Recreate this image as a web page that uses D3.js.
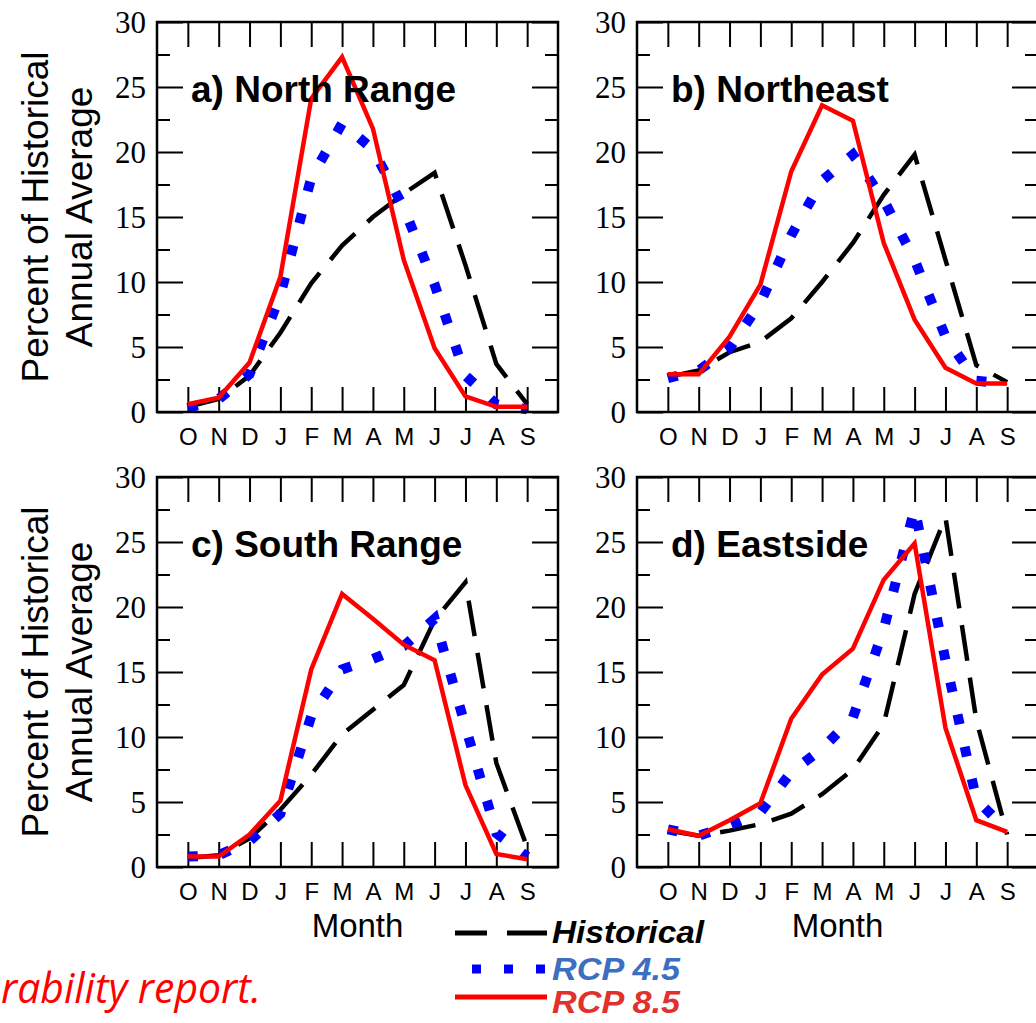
<!DOCTYPE html>
<html lang="en">
<head>
<meta charset="utf-8" />
<title>Percent of Historical Annual Average by Month</title>
<script src="https://d3js.org/d3.v7.min.js"></script>
<style>
  body { margin: 0; background: #fff; }
  svg { display: block; }
</style>
</head>
<body>
<script>
    var w = 1036;
    var h = 1023;

    // months of the water year, Oct..Sep
    var months = ["O","N","D","J","F","M","A","M","J","J","A","S"];
    var yTicks = [0, 5, 10, 15, 20, 25, 30];
    var yMinor = [2.5, 7.5, 12.5, 17.5, 22.5, 27.5];
    var titles = ["a) North Range", "b) Northeast", "c) South Range", "d) Eastside"];
    var seriesNames = ["Historical", "RCP 4.5", "RCP 8.5"];

    // values (percent of historical annual average)
    var northHist  = [0.4, 1.0, 2.8, 6.1, 9.9, 12.8, 15.0, 16.8, 18.4, 11.3, 3.7, 0.6];
    var northRcp45 = [0.3, 1.0, 2.9, 9.0, 18.0, 22.2, 20.2, 15.7, 9.8, 2.8, 0.6, 0.2];
    var northRcp85 = [0.6, 1.1, 3.8, 10.4, 24.1, 27.3, 21.8, 11.7, 4.9, 1.2, 0.4, 0.4];

    var neHist  = [2.7, 3.2, 4.6, 5.4, 7.2, 10.0, 13.0, 16.7, 19.8, 11.7, 3.6, 2.3];
    var neRcp45 = [2.6, 3.2, 4.9, 8.4, 13.6, 17.8, 19.8, 16.3, 11.7, 5.8, 2.4, 2.2];
    var neRcp85 = [2.9, 2.9, 5.8, 9.8, 18.5, 23.6, 22.4, 13.0, 7.1, 3.4, 2.2, 2.2];

    var southHist  = [0.7, 0.9, 2.2, 4.4, 7.1, 10.2, 12.1, 14.0, 19.0, 21.9, 8.0, 1.5];
    var southRcp45 = [0.8, 0.9, 2.0, 4.1, 11.6, 15.2, 16.0, 17.0, 19.1, 10.8, 2.6, 0.8];
    var southRcp85 = [0.8, 0.8, 2.5, 5.1, 15.2, 21.0, 19.1, 17.1, 15.9, 6.3, 1.0, 0.6];

    var eastHist  = [2.8, 2.4, 2.8, 3.3, 4.1, 5.6, 7.5, 11.0, 21.0, 26.9, 11.3, 2.5];
    var eastRcp45 = [2.9, 2.4, 3.2, 4.2, 7.3, 9.1, 11.5, 18.3, 27.6, 15.9, 5.2, 2.8];
    var eastRcp85 = [2.9, 2.4, 3.6, 4.9, 11.4, 14.8, 16.8, 22.1, 24.9, 10.7, 3.6, 2.7];

    var panels = [
        [northHist, northRcp45, northRcp85],
        [neHist, neRcp45, neRcp85],
        [southHist, southRcp45, southRcp85],
        [eastHist, eastRcp45, eastRcp85]
    ];

    // panel placement
    var pw = 401, ph = 390;
    var origins = [[157, 22], [637, 22], [157, 477], [637, 477]];

    // line styles: historical dashed, rcp4.5 square dots, rcp8.5 solid
    var styles = [
        {color: "#000000", width: 4.5, dash: "36,17"},
        {color: "#0000ff", width: 10, dash: "10,23"},
        {color: "#ff0000", width: 4.5, dash: null}
    ];

    var sans = "Liberation Sans, Arial, Helvetica, sans-serif";
    var serif = "Liberation Serif, Times New Roman, serif";

    var xScale = d3.scaleLinear().domain([-1, 12]).range([0, pw]);
    var yScale = d3.scaleLinear().domain([0, 30]).range([ph, 0]);

    var svg = d3.select("body")
        .append("svg")
        .attr("width", w)
        .attr("height", h);

    var line = d3.line()
        .x(function(d, i) { return xScale(i); })
        .y(function(d) { return yScale(d); });

    function styleAxis(g) {
        g.select(".domain").remove();
        g.selectAll(".tick line").attr("stroke", "#000").attr("stroke-width", 2);
    }

    panels.forEach(function(series, p) {
        var g = svg.append("g")
            .attr("transform", "translate(" + origins[p][0] + "," + origins[p][1] + ")");

        // left ticks with labels
        g.append("g")
            .call(d3.axisLeft(yScale).tickValues(yTicks).tickSize(-26).tickPadding(11))
            .call(styleAxis)
            .selectAll("text")
            .attr("font-family", serif)
            .attr("font-size", "31px")
            .attr("fill", "#000")
            .attr("dy", "0.34em");
        g.append("g")
            .call(d3.axisLeft(yScale).tickValues(yMinor).tickSize(-13).tickFormat(""))
            .call(styleAxis);

        // right ticks
        g.append("g")
            .attr("transform", "translate(" + pw + ",0)")
            .call(d3.axisRight(yScale).tickValues(yTicks).tickSize(-26).tickFormat(""))
            .call(styleAxis);
        g.append("g")
            .attr("transform", "translate(" + pw + ",0)")
            .call(d3.axisRight(yScale).tickValues(yMinor).tickSize(-13).tickFormat(""))
            .call(styleAxis);

        // bottom month ticks + labels
        g.append("g")
            .attr("transform", "translate(0," + ph + ")")
            .call(d3.axisBottom(xScale).tickValues(d3.range(12)).tickSize(-25).tickPadding(16)
                .tickFormat(function(i) { return months[i]; }))
            .call(styleAxis)
            .selectAll("text")
            .attr("font-family", sans)
            .attr("font-size", "24px")
            .attr("fill", "#000");

        // top month ticks
        g.append("g")
            .call(d3.axisTop(xScale).tickValues(d3.range(12)).tickSize(-25).tickFormat(""))
            .call(styleAxis);

        // series lines
        series.forEach(function(vals, s) {
            var path = g.append("path")
                .datum(vals)
                .attr("d", line)
                .attr("fill", "none")
                .attr("stroke", styles[s].color)
                .attr("stroke-width", styles[s].width)
                .attr("stroke-linejoin", "miter")
                .attr("stroke-miterlimit", 10)
                .attr("stroke-linecap", "butt");
            if (styles[s].dash) path.attr("stroke-dasharray", styles[s].dash);
        });

        // frame
        g.append("rect")
            .attr("width", pw)
            .attr("height", ph)
            .attr("fill", "none")
            .attr("stroke", "#000")
            .attr("stroke-width", 2.5);

        // panel title
        g.append("text")
            .attr("x", 34)
            .attr("y", 80)
            .attr("font-family", sans)
            .attr("font-weight", "bold")
            .attr("font-size", "37px")
            .attr("fill", "#000")
            .text(titles[p]);

        // y label on left column
        if (p % 2 === 0) {
            var lbl = svg.append("text")
                .attr("transform", "translate(0," + (origins[p][1] + ph / 2) + ") rotate(-90)")
                .attr("text-anchor", "middle")
                .attr("font-family", sans)
                .attr("font-size", "37px")
                .attr("fill", "#000");
            lbl.append("tspan").attr("x", 0).attr("y", 48).text("Percent of Historical");
            lbl.append("tspan").attr("x", 0).attr("y", 92).text("Annual Average");
        }

        // x label on bottom row
        if (p >= 2) {
            svg.append("text")
                .attr("x", origins[p][0] + xScale(5.5))
                .attr("y", 937)
                .attr("text-anchor", "middle")
                .attr("font-family", sans)
                .attr("font-size", "33px")
                .attr("fill", "#000")
                .text("Month");
        }
    });

    // legend
    var legendY = [933, 969, 997];
    var legendText = [943, 980, 1013];
    var legendColors = ["#000000", "#3c6ec2", "#e2302b"];
    var legendWidths = [152, 128, 128];
    seriesNames.forEach(function(name, s) {
        var x0 = s === 1 ? 472 : 455;
        var ln = svg.append("line")
            .attr("x1", x0)
            .attr("x2", 547)
            .attr("y1", legendY[s])
            .attr("y2", legendY[s])
            .attr("stroke", styles[s].color)
            .attr("stroke-width", s === 1 ? 9 : 5);
        if (s === 0) ln.attr("stroke-dasharray", "32,20,40");
        if (s === 1) ln.attr("stroke-dasharray", "9,23");
        svg.append("text")
            .attr("x", 552)
            .attr("y", legendText[s])
            .attr("font-family", sans)
            .attr("font-weight", "bold")
            .attr("font-style", "italic")
            .attr("font-size", "31px")
            .attr("textLength", legendWidths[s])
            .attr("lengthAdjust", "spacingAndGlyphs")
            .attr("fill", legendColors[s])
            .text(name);
    });

    // slide caption fragment at bottom left
    svg.append("text")
        .attr("x", 1)
        .attr("y", 1003)
        .attr("font-family", "Open Sans, Lato, sans-serif")
        .attr("font-style", "italic")
        .attr("font-size", "42px")
        .attr("fill", "#ff0000")
        .attr("textLength", 260)
        .attr("lengthAdjust", "spacingAndGlyphs")
        .text("rability report.");
</script>
</body>
</html>
